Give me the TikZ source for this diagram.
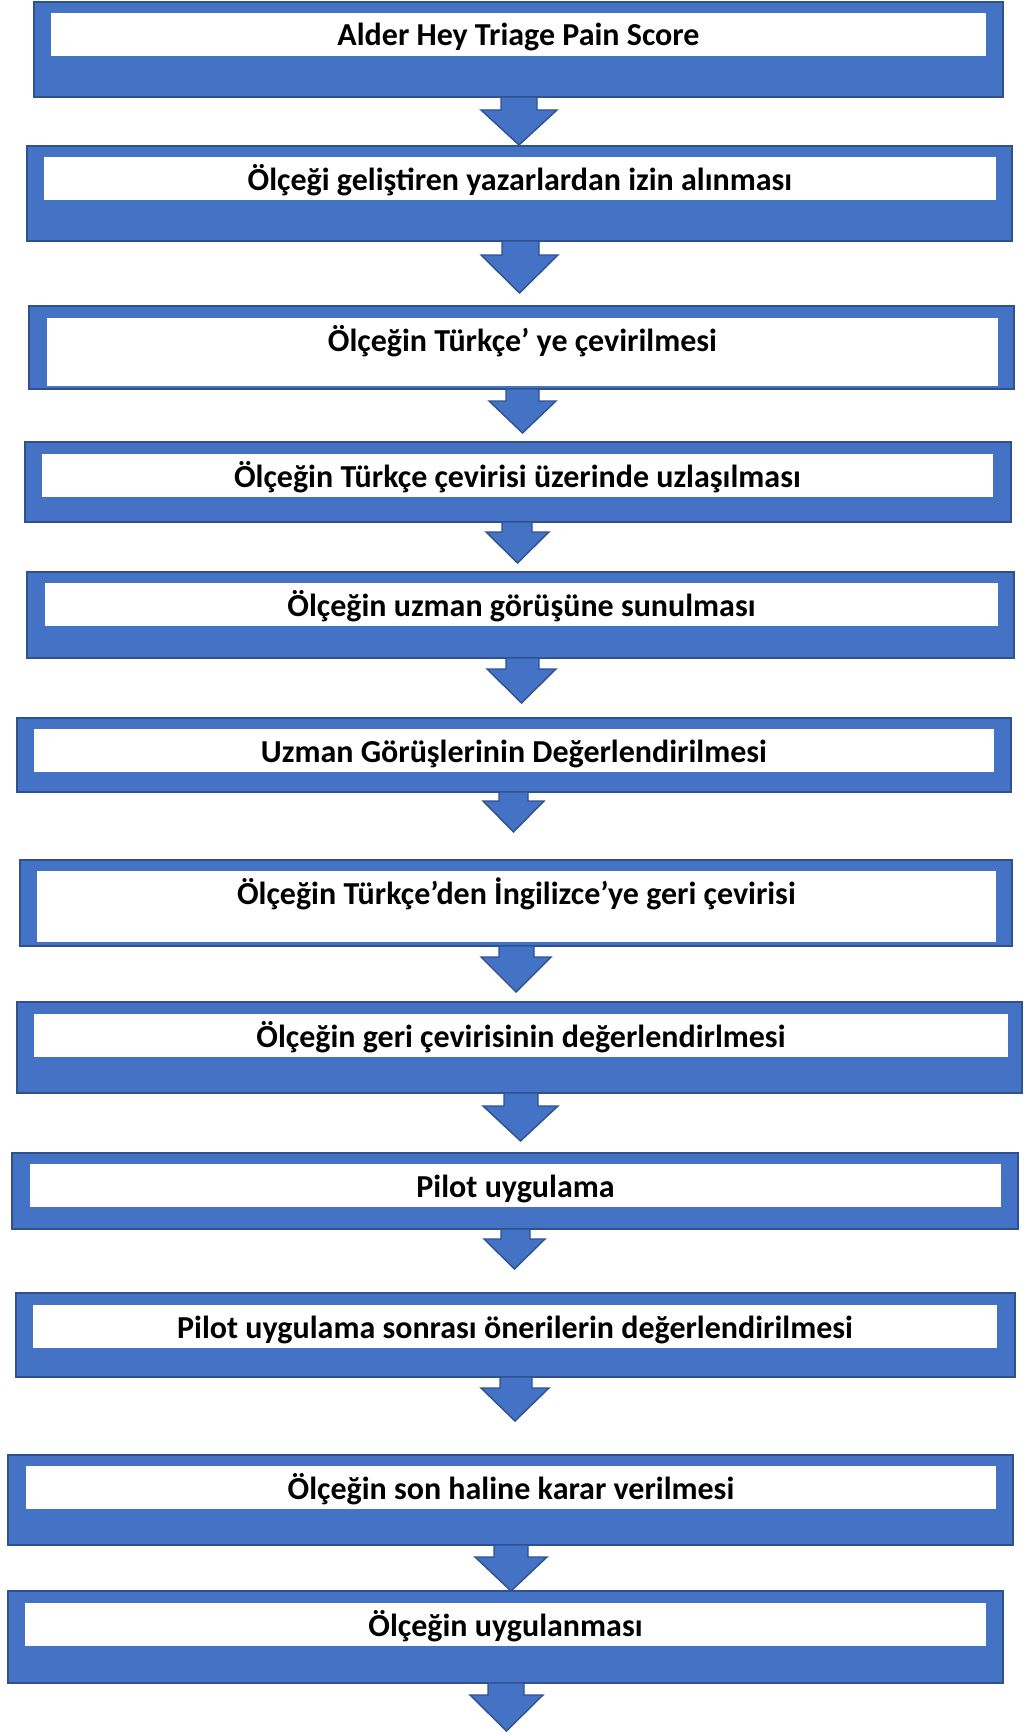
\documentclass[tikz,border=0pt]{standalone}
\usepackage{fontspec}
\setmainfont{Carlito}
\definecolor{accblue}{HTML}{4472C4}
\definecolor{accdark}{HTML}{2F528F}
\tikzset{
  obox/.style={rectangle, fill=accblue, draw=accdark, line width=1.6pt, inner sep=0pt, outer sep=0pt},
  wbox/.style={rectangle, fill=white, draw=none, inner sep=0pt, outer sep=0pt},
  steptext/.style={font=\bfseries\fontsize{32}{38}\selectfont, text=black, inner sep=0pt, anchor=base},
  barrow/.style={fill=accblue, draw=accdark, line width=1.4pt, line join=miter}
}
% #1 name, #2 x1, #3 y1, #4 x2, #5 y2, #6 ix1, #7 iy1, #8 ix2, #9 iy2
\newcommand\stepbox[9]{%
  \node[obox, minimum width={(#4-#2)*1pt}, minimum height={(#5-#3)*1pt}] (b#1) at ({(#2+#4)/2},{(#3+#5)/2}) {};
  \node[wbox, minimum width={(#8-#6)*1pt}, minimum height={(#9-#7)*1pt}] (w#1) at ({(#6+#8)/2},{(#7+#9)/2}) {};
  \coordinate (c#1) at ({(#6+#8)/2},{#7+33});
}
% #1 shaft x1, #2 shaft x2, #3 head x1, #4 head x2, #5 y0, #6 head start y, #7 tip y
\newcommand\blockarrow[7]{%
  \draw[barrow] (#1,#5) -- (#1,#6) -- (#3,#6) -- ({(#3+#4)/2},#7) -- (#4,#6) -- (#2,#6) -- (#2,#5) -- cycle;
}
\begin{document}
\begin{tikzpicture}[x=1pt,y=-1pt]
\useasboundingbox (0,0) rectangle (1023,1734);
\stepbox{1}{34}{2}{1003}{97}{51}{13}{986}{56}
\stepbox{2}{27}{146}{1012}{241}{44}{157}{996}{200}
\stepbox{3}{29}{306}{1014}{389}{47}{318}{998}{386}
\stepbox{4}{25}{442}{1011}{522}{42}{454}{993}{497}
\stepbox{5}{27}{572}{1014}{658}{45}{583}{998}{626}
\stepbox{6}{17}{718}{1011}{792}{34}{729}{994}{772}
\stepbox{7}{20}{860}{1012}{946}{37}{871}{996}{942}
\stepbox{8}{17}{1002}{1022}{1093}{34}{1014}{1008}{1057}
\stepbox{9}{12}{1153}{1018}{1229}{30}{1164}{1001}{1207}
\stepbox{10}{16}{1293}{1015}{1377}{33}{1305}{997}{1348}
\stepbox{11}{8}{1455}{1013}{1545}{26}{1466}{996}{1509}
\stepbox{12}{8}{1591}{1003}{1683}{25}{1603}{986}{1646}
\node[steptext] (t1) at (c1) {Alder Hey Triage Pain Score};
\node[steptext] (t2) at (c2) {Ölçeği geliştiren yazarlardan izin alınması};
\node[steptext] (t3) at (c3) {Ölçeğin Türkçe’ ye çevirilmesi};
\node[steptext] (t4) at (c4) {Ölçeğin Türkçe çevirisi üzerinde uzlaşılması};
\node[steptext] (t5) at (c5) {Ölçeğin uzman görüşüne sunulması};
\node[steptext] (t6) at (c6) {Uzman Görüşlerinin Değerlendirilmesi};
\node[steptext] (t7) at (c7) {Ölçeğin Türkçe’den İngilizce’ye geri çevirisi};
\node[steptext] (t8) at (c8) {Ölçeğin geri çevirisinin değerlendirlmesi};
\node[steptext] (t9) at (c9) {Pilot uygulama};
\node[steptext] (t10) at (c10) {Pilot uygulama sonrası önerilerin değerlendirilmesi};
\node[steptext] (t11) at (c11) {Ölçeğin son haline karar verilmesi};
\node[steptext] (t12) at (c12) {Ölçeğin uygulanması};
\blockarrow{501}{537}{481}{557}{97}{110}{145}
\blockarrow{502}{539}{481}{558}{241}{255}{293}
\blockarrow{506}{539}{489}{556}{389}{401}{433}
\blockarrow{502}{532}{486}{549}{522}{532}{563}
\blockarrow{506}{539}{487}{556}{658}{669}{703}
\blockarrow{499}{528}{483}{544}{792}{801}{832}
\blockarrow{499}{534}{481}{551}{946}{957}{992}
\blockarrow{504}{538}{483}{558}{1093}{1106}{1141}
\blockarrow{501}{530}{484}{545}{1229}{1239}{1269}
\blockarrow{500}{532}{481}{549}{1377}{1388}{1421}
\blockarrow{494}{528}{475}{547}{1545}{1557}{1591}
\blockarrow{488}{524}{470}{543}{1683}{1695}{1731}
\end{tikzpicture}
\end{document}
